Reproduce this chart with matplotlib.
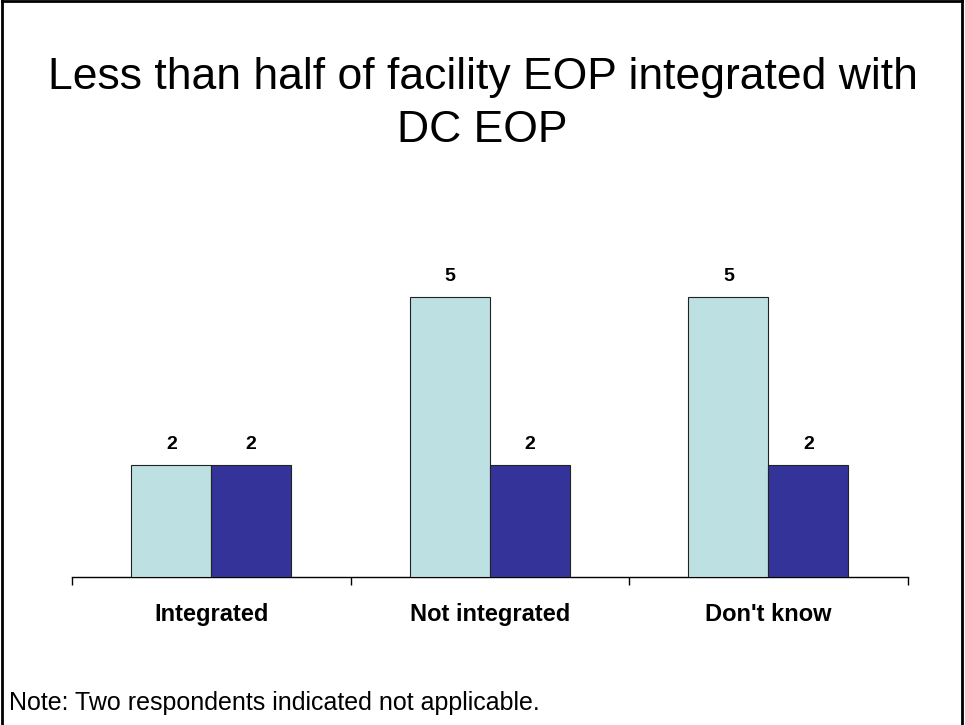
import numpy as np
import matplotlib
matplotlib.use("Agg")
import matplotlib.pyplot as plt
from matplotlib.lines import Line2D

plt.rcParams['font.family'] = ['Liberation Sans', 'DejaVu Sans']

# --- Data ---
categories = ["Integrated", "Not integrated", "Don't know"]
series_a = [2, 5, 5]   # light bars
series_b = [2, 2, 2]   # dark bars
title = "Less than half of facility EOP integrated with\nDC EOP"
note = "Note: Two respondents indicated not applicable."

light_col = "#BDE1E3"
dark_col = "#333399"

fig = plt.figure(figsize=(9.65, 7.25), dpi=100)
ax = fig.add_axes([0.0746, 0.204, 0.866, 0.463])

x = np.arange(len(categories))
w = 0.287
ax.bar(x - w / 2, series_a, w, color=light_col, edgecolor="#222222", linewidth=0.8, zorder=3)
ax.bar(x + w / 2, series_b, w, color=dark_col, edgecolor="#222222", linewidth=0.8, zorder=3)

for xi, v in zip(x - w / 2, series_a):
    ax.text(xi, v + 0.22, str(v), ha="center", va="bottom", fontsize=14, fontweight="bold")
for xi, v in zip(x + w / 2, series_b):
    ax.text(xi, v + 0.22, str(v), ha="center", va="bottom", fontsize=14, fontweight="bold")

ax.set_xlim(-0.5, len(categories) - 0.5)
ax.set_ylim(0, 6)
for s in ["left", "right", "top"]:
    ax.spines[s].set_visible(False)
ax.spines["bottom"].set_linewidth(1.0)
ax.set_yticks([])
# ticks at category boundaries, labels centred
ax.set_xticks(np.arange(len(categories) + 1) - 0.5)
ax.set_xticklabels([])
ax.set_xticks(x, minor=True)
ax.set_xticklabels(categories, minor=True, fontsize=17, fontweight="bold")
ax.tick_params(axis="x", which="major", direction="out", length=6, width=1.0)
ax.tick_params(axis="x", which="minor", length=0, pad=19)

fig.text(0.5, 0.922, title, ha="center", va="top", fontsize=32, linespacing=1.4)
fig.text(0.009, 0.03, note, ha="left", va="center", fontsize=18)

# frame around the slide
fig.add_artist(Line2D([0.002, 0.002], [0, 0.998], color="black", lw=2, transform=fig.transFigure))
fig.add_artist(Line2D([0.002, 0.997], [0.998, 0.998], color="black", lw=2, transform=fig.transFigure))
fig.add_artist(Line2D([0.997, 0.997], [0, 0.998], color="black", lw=2, transform=fig.transFigure))

fig.savefig("out.png", dpi=100, facecolor="white")
